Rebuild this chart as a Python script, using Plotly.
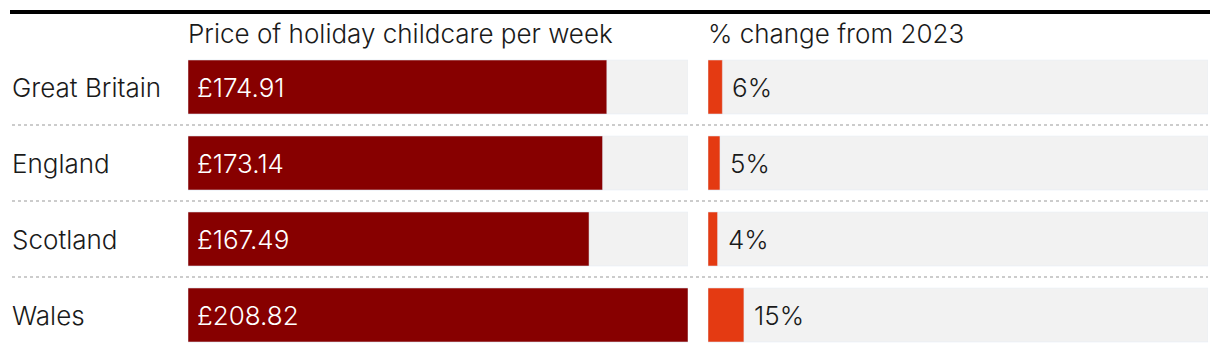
import plotly.graph_objects as go

regions = ["Great Britain", "England", "Scotland", "Wales"]
price = [174.91, 173.14, 167.49, 208.82]
price_labels = ["£174.91", "£173.14", "£167.49", "£208.82"]
change_pct = [6, 5, 4, 15]
change_labels = ["6%", "5%", "4%", "15%"]
header_price = "Price of holiday childcare per week"
header_change = "% change from 2023"

W, H = 1220, 352
FONT = "Inter"
FS = 26
scale_max = max(price)

fig = go.Figure()
bar_w = 0.71
fig.add_trace(go.Bar(y=regions, x=[scale_max] * len(regions), orientation="h",
                     marker_color="#f2f2f2", width=bar_w, xaxis="x", yaxis="y",
                     hoverinfo="skip", showlegend=False))
fig.add_trace(go.Bar(y=regions, x=price, orientation="h", marker_color="#870000",
                     width=bar_w, xaxis="x", yaxis="y", showlegend=False))
fig.add_trace(go.Bar(y=regions, x=[scale_max] * len(regions), orientation="h",
                     marker_color="#f2f2f2", width=bar_w, xaxis="x2", yaxis="y",
                     hoverinfo="skip", showlegend=False))
fig.add_trace(go.Bar(y=regions, x=change_pct, orientation="h", marker_color="#e43a12",
                     width=bar_w, xaxis="x2", yaxis="y", showlegend=False))

# price labels inside bars
for r, t in zip(regions, price_labels):
    fig.add_annotation(x=0, y=r, xref="x", yref="y", text=t, showarrow=False,
                       xanchor="left", xshift=7,
                       font=dict(size=FS, family=FONT, color="white", weight=300))
# percent labels to the right of bars
for r, v, t in zip(regions, change_pct, change_labels):
    fig.add_annotation(x=v, y=r, xref="x2", yref="y", text=t, showarrow=False,
                       xanchor="left", xshift=8,
                       font=dict(size=FS, family=FONT, color="#1a1a1a", weight=300))
# region labels
for r in regions:
    fig.add_annotation(x=10 / W, y=r, xref="paper", yref="y", text=r, showarrow=False,
                       xanchor="left", font=dict(size=FS, family=FONT, color="#1a1a1a", weight=300))

# headers
fig.add_annotation(x=186 / W, y=1 - 33 / H, xref="paper", yref="paper", text=header_price,
                   showarrow=False, xanchor="left", yanchor="middle",
                   font=dict(size=FS, family=FONT, color="#1a1a1a", weight=300))
fig.add_annotation(x=706 / W, y=1 - 33 / H, xref="paper", yref="paper", text=header_change,
                   showarrow=False, xanchor="left", yanchor="middle",
                   font=dict(size=FS, family=FONT, color="#1a1a1a", weight=300))

# top rule
fig.add_shape(type="line", xref="paper", yref="paper", x0=10 / W, x1=1210 / W,
              y0=1 - 12 / H, y1=1 - 12 / H, line=dict(color="black", width=4))
# dotted separators
for yv in [0.5, 1.5, 2.5]:
    fig.add_shape(type="line", xref="paper", yref="y", x0=12 / W, x1=1208 / W,
                  y0=yv, y1=yv, line=dict(color="#cccccc", width=2, dash="dot"))

top_i = -87 / 76
bot_i = (H - 87) / 76
fig.update_layout(
    width=W, height=H, margin=dict(l=0, r=0, t=0, b=0),
    paper_bgcolor="white", plot_bgcolor="white", barmode="overlay",
    xaxis=dict(domain=[188 / W, 688 / W], range=[0, scale_max], visible=False, fixedrange=True),
    xaxis2=dict(domain=[708 / W, 1208 / W], range=[0, scale_max], visible=False, fixedrange=True),
    yaxis=dict(range=[bot_i, top_i], visible=False, type="category", fixedrange=True,
               categoryorder="array", categoryarray=regions),
)
fig.write_html("out.html")
